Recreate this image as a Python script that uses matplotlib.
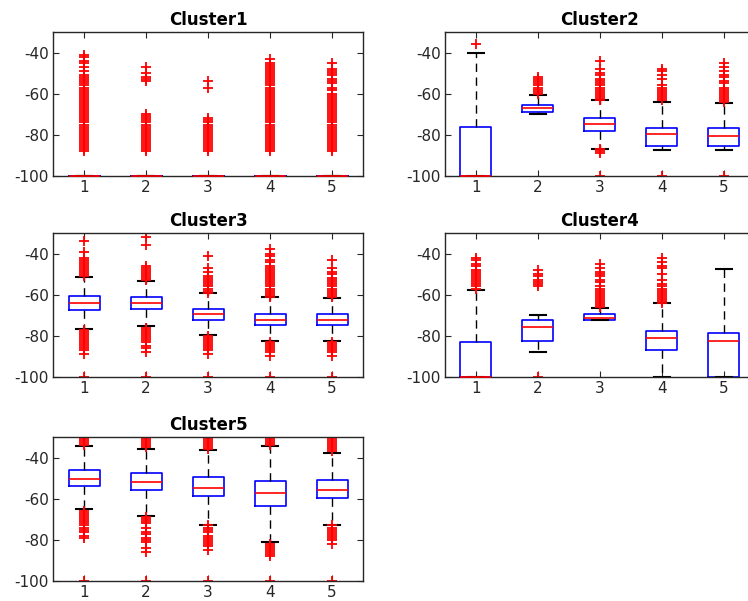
import matplotlib
matplotlib.use("Agg")
import matplotlib.pyplot as plt

plt.rcParams['axes.unicode_minus'] = False

positions = [1, 2, 3, 4, 5]
titles = ["Cluster1", "Cluster2", "Cluster3", "Cluster4", "Cluster5"]

# box summaries per cluster: q1, median, q3, lower whisker, upper whisker
c1_q1 = [-100, -100, -100, -100, -100]
c1_med = [-100, -100, -100, -100, -100]
c1_q3 = [-100, -100, -100, -100, -100]
c1_lo = [-100, -100, -100, -100, -100]
c1_hi = [-100, -100, -100, -100, -100]
c1_fliers = [
    [-41, -42, -44, -45, -47, -49, -51, -52, -53, -54, -55, -56, -57, -58, -59, -60,
     -61, -62, -63, -64, -65, -66, -67, -68, -69, -70, -71, -72, -73, -74, -75, -76,
     -77, -78, -79, -80, -81, -82, -83, -84, -85, -86, -87, -88],
    [-47, -50, -52, -53, -54, -70, -71, -72, -73, -74, -75, -76, -77, -78, -79, -80,
     -81, -82, -83, -84, -85, -86, -87, -88],
    [-54, -57, -72, -73, -74, -75, -76, -77, -78, -79, -80, -81, -82, -83, -84, -85,
     -86, -87, -88],
    [-43, -45, -46, -47, -48, -49, -50, -51, -52, -53, -54, -55, -56, -57, -58, -59,
     -60, -61, -62, -63, -64, -65, -66, -67, -68, -69, -70, -71, -72, -73, -74, -75,
     -76, -77, -78, -79, -80, -81, -82, -83, -84, -85, -86, -87, -88],
    [-45, -48, -49, -50, -51, -53, -54, -55, -57, -58, -60, -61, -62, -63, -64, -65,
     -66, -67, -68, -69, -70, -71, -72, -73, -74, -75, -76, -77, -78, -79, -80, -81,
     -82, -83, -84, -85, -86, -87, -88],
]

c2_q1 = [-100, -68.9, -78.1, -85.4, -85.4]
c2_med = [-100, -67.2, -74.6, -79.7, -80.5]
c2_q3 = [-76, -65.3, -72.0, -76.5, -76.7]
c2_lo = [-100, -69.7, -86.9, -87.4, -87.4]
c2_hi = [-40, -60.5, -63.2, -63.9, -64.4]
c2_fliers = [
    [-36],
    [-52, -53, -54, -55, -56, -57, -58, -59, -60],
    [-44, -48, -50, -51, -53, -54, -55, -56, -57, -58, -59, -60, -61, -62, -63,
     -87, -88, -89, -100],
    [-48, -49, -51, -53, -56, -57, -58, -59, -60, -61, -62, -63, -100],
    [-45, -47, -49, -51, -52, -54, -55, -57, -58, -59, -60, -61, -62, -63, -64, -100],
]

c3_q1 = [-67.4, -66.9, -72.1, -74.7, -74.7]
c3_med = [-64.0, -64.0, -69.2, -72.1, -72.1]
c3_q3 = [-60.8, -61.3, -66.9, -69.4, -69.4]
c3_lo = [-76.8, -75.2, -79.7, -82.7, -82.7]
c3_hi = [-51.4, -53.2, -59.3, -61.1, -61.6]
c3_fliers = [
    [-34, -39, -42, -43, -44, -45, -46, -47, -48, -49, -50, -51,
     -77, -78, -79, -80, -81, -82, -83, -84, -85, -86, -87, -89, -100],
    [-32, -36, -46, -47, -48, -49, -50, -51, -52, -53,
     -76, -77, -78, -79, -80, -81, -82, -83, -85, -86, -88, -100],
    [-41, -47, -49, -51, -52, -53, -54, -55, -56, -57, -58, -59,
     -80, -81, -82, -83, -84, -85, -86, -87, -89, -100],
    [-38, -40, -41, -43, -44, -46, -47, -48, -49, -50, -51, -52, -53, -54, -55, -56,
     -57, -58, -59, -60, -61, -83, -84, -85, -86, -87, -88, -90, -100],
    [-43, -47, -49, -50, -52, -53, -54, -55, -56, -57, -58, -59, -60, -61,
     -83, -84, -85, -86, -87, -88, -90, -100],
]

c4_q1 = [-100, -82.7, -72.1, -87.0, -100]
c4_med = [-100, -75.5, -71.3, -81.2, -82.3]
c4_q3 = [-82.8, -72.4, -69.4, -77.8, -78.4]
c4_lo = [-100, -87.7, -72.4, -100, -100]
c4_hi = [-57.5, -69.9, -66.5, -64.2, -47.3]
c4_fliers = [
    [-42, -43, -45, -46, -48, -49, -50, -51, -52, -53, -54, -55, -56, -57],
    [-48, -50, -51, -53, -54, -55, -56, -100],
    [-45, -47, -49, -50, -51, -53, -54, -56, -57, -58, -59, -60, -61, -62, -63, -64,
     -65, -66],
    [-42, -44, -46, -47, -50, -53, -55, -56, -57, -58, -59, -60, -61, -62, -63, -64],
    [],
]

c5_q1 = [-54.0, -55.9, -58.8, -63.7, -59.8]
c5_med = [-50.3, -52.0, -54.6, -57.2, -55.6]
c5_q3 = [-46.2, -47.5, -49.6, -51.2, -50.9]
c5_lo = [-65.2, -68.4, -72.9, -81.2, -72.9]
c5_hi = [-34.5, -35.7, -36.2, -34.2, -37.8]
c5_fliers = [
    [-30, -31, -32, -33, -34, -66, -67, -68, -69, -70, -71, -72, -73, -74, -75, -76,
     -78, -79, -100],
    [-30, -31, -32, -33, -34, -35, -69, -70, -71, -72, -74, -76, -77, -79, -80, -81,
     -84, -86, -100],
    [-31, -32, -33, -34, -35, -36, -73, -74, -75, -76, -78, -79, -80, -81, -82, -83,
     -85, -100],
    [-30, -31, -32, -33, -34, -82, -83, -84, -85, -86, -87, -88, -100],
    [-30, -31, -32, -33, -34, -35, -36, -37, -73, -74, -75, -76, -77, -78, -79, -80,
     -82, -100],
]

clusters = [
    (c1_q1, c1_med, c1_q3, c1_lo, c1_hi, c1_fliers),
    (c2_q1, c2_med, c2_q3, c2_lo, c2_hi, c2_fliers),
    (c3_q1, c3_med, c3_q3, c3_lo, c3_hi, c3_fliers),
    (c4_q1, c4_med, c4_q3, c4_lo, c4_hi, c4_fliers),
    (c5_q1, c5_med, c5_q3, c5_lo, c5_hi, c5_fliers),
]

# axes rectangles (left, bottom, width, height) in figure fractions
rects = [
    (0.0709, 0.7072, 0.4144, 0.2396),
    (0.5949, 0.7072, 0.4144, 0.2396),
    (0.0709, 0.3727, 0.4144, 0.2396),
    (0.5949, 0.3727, 0.4144, 0.2396),
    (0.0709, 0.0333, 0.4144, 0.2396),
]

fig = plt.figure(figsize=(7.48, 6.01), dpi=100)
gray = '#262626'

for title, rect, (q1, med, q3, lo, hi, fl) in zip(titles, rects, clusters):
    ax = fig.add_axes(rect)
    stats = []
    for i in range(5):
        stats.append(dict(q1=q1[i], med=med[i], q3=q3[i],
                          whislo=lo[i], whishi=hi[i], fliers=fl[i]))
    parts = ax.bxp(stats, positions=positions, widths=0.5, capwidths=0.25,
                   boxprops=dict(color='#0000ff', linewidth=1.2),
                   medianprops=dict(color='#ff0000', linewidth=1.2),
                   whiskerprops=dict(color='black', linestyle=(0, (6, 4)), linewidth=1.0),
                   capprops=dict(color='black', linewidth=1.5),
                   flierprops=dict(marker='+', markeredgecolor='#ff0000', markersize=7,
                                   markeredgewidth=1.3, linestyle='none'),
                   zorder=2)
    # keep the red median visible where boxes collapse onto -100
    for m in parts['medians']:
        m.set_zorder(5)
        m.set_clip_on(False)
    ax.set_xlim(0.5, 5.5)
    ax.set_ylim(-100, -30)
    ax.set_yticks([-100, -80, -60, -40])
    ax.set_xticks(positions)
    ax.set_xticklabels([str(p) for p in positions])
    ax.tick_params(direction='in', top=True, right=True, length=4, width=0.8,
                   colors=gray, labelsize=11, labelcolor=gray)
    ax.tick_params(axis='y', pad=3)
    ax.tick_params(axis='x', pad=3)
    for s in ax.spines.values():
        s.set_color(gray)
        s.set_linewidth(1.0)
    ax.set_title(title, fontsize=12, fontweight='bold', color='black', pad=5)

fig.savefig("out.png", dpi=100)
